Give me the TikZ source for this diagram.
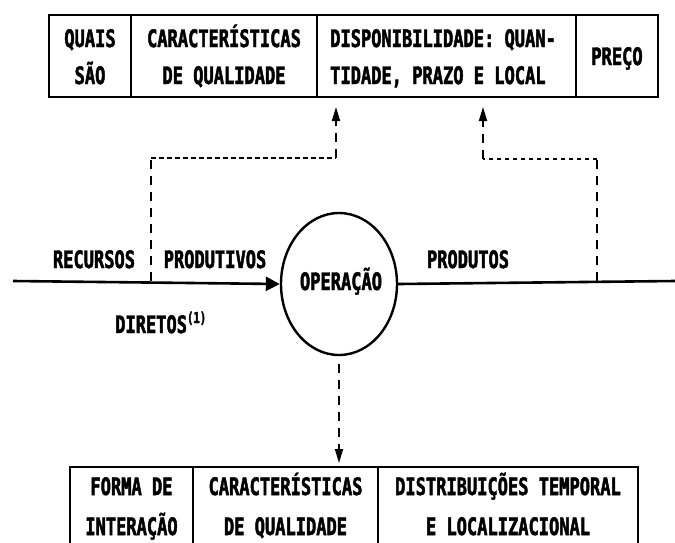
\documentclass[tikz,border=0pt]{standalone}
\usepackage{fontspec}
\setmainfont{DejaVu Sans Mono}[FakeStretch=0.71, BoldFeatures={FakeBold=2}]
\usetikzlibrary{arrows.meta,shapes.geometric}
\tikzset{
  cell/.style={draw, line width=1.8pt, inner sep=0pt},
  lbl/.style={inner sep=0pt, anchor=base, font=\fontsize{24}{26}\selectfont\bfseries},
  lbll/.style={lbl, anchor=base west},
  mainline/.style={line width=2.6pt},
  vdash/.style={line width=1.8pt, dash pattern=on 9pt off 7pt},
  hdash/.style={line width=1.8pt, dash pattern=on 4.5pt off 3.5pt},
  uptip/.style={-{Triangle[width=8pt,length=14pt]}},
}
\begin{document}
\begin{tikzpicture}[x=1pt,y=-1pt]
\useasboundingbox (0,0) rectangle (675,542);
% top box
\node[cell, minimum width=82pt, minimum height=82pt] (t1) at (90,56) {};
\node[cell, minimum width=186pt, minimum height=82pt] (t2) at (224,56) {};
\node[cell, minimum width=259pt, minimum height=82pt] (t3) at (446.5,56) {};
\node[cell, minimum width=82pt, minimum height=82pt] (t4) at (617,56) {};
\node[lbl] (q1) at (90,47) {QUAIS};
\node[lbl] (q2) at (90,84) {SÃO};
\node[lbl] (c1) at (224,47) {CARACTERÍSTICAS};
\node[lbl] (c2) at (224,84) {DE QUALIDADE};
\node[lbll] (d1) at (330,47) {DISPONIBILIDADE: QUAN-};
\node[lbll] (d2) at (330,84) {TIDADE, PRAZO E LOCAL};
\node[lbl] (p1) at (617,65) {PREÇO};
% operation
\node[ellipse, draw, line width=2.4pt, minimum width=116pt, minimum height=142pt, inner sep=0pt] (op) at (339,284) {};
\node[lbl] (opt) at (341,290) {OPERAÇÃO};
% main line
\coordinate (in) at (13,281);
\coordinate (out) at (675,281);
\draw[mainline, -{Triangle[width=14pt,length=14pt]}] (in) -- (op.west);
\draw[mainline] (op.east) -- (out);
\node[lbl] (rec) at (94,268) {RECURSOS};
\node[lbl] (prod) at (215,268) {PRODUTIVOS};
\node[lbl] (pdt) at (468,268) {PRODUTOS};
\node[lbll] (dir) at (115,333) {DIRETOS\raisebox{10pt}{\fontsize{15}{15}\selectfont (1)}};
% dashed feedback left
\coordinate (la) at (151,281);
\coordinate (lb) at (151,158);
\coordinate (lc) at (336,158);
\coordinate (ld) at (336,107);
\draw[vdash] (la) -- (lb);
\draw[hdash] (lb) -- (lc);
\draw[vdash, uptip] (lc) -- (ld);
% dashed feedback right
\coordinate (ra) at (597,281);
\coordinate (rb) at (597,159);
\coordinate (rc) at (483,159);
\coordinate (rd) at (483,107);
\draw[vdash] (ra) -- (rb);
\draw[hdash] (rb) -- (rc);
\draw[vdash, uptip] (rc) -- (rd);
% down
\coordinate (dd) at (339,463);
\draw[vdash, -{Triangle[width=8pt,length=14pt]}] (op.south) ++(0,8) -- (dd);
% bottom box
\node[cell, minimum width=123pt, minimum height=90pt] (b1) at (131.5,512) {};
\node[cell, minimum width=185pt, minimum height=90pt] (b2) at (285.5,512) {};
\node[cell, minimum width=260pt, minimum height=90pt] (b3) at (508,512) {};
\node[lbl] (f1) at (131.5,495) {FORMA DE};
\node[lbl] (f2) at (131.5,535) {INTERAÇÃO};
\node[lbl] (g1) at (285.5,495) {CARACTERÍSTICAS};
\node[lbl] (g2) at (285.5,535) {DE QUALIDADE};
\node[lbl] (h1) at (508,495) {DISTRIBUIÇÕES TEMPORAL};
\node[lbl] (h2) at (508,535) {E LOCALIZACIONAL};
\end{tikzpicture}
\end{document}
